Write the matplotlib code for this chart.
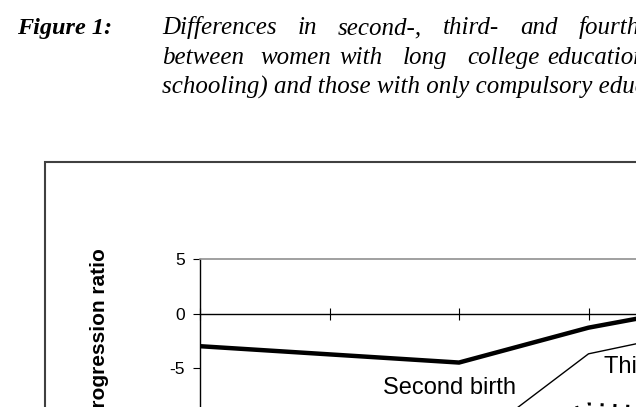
import matplotlib.pyplot as plt
from matplotlib.patches import Rectangle

plt.rcParams['axes.unicode_minus'] = False

# Données
categories = ["1", "2", "3", "4", "5"]
second_birth = [-3.0, -3.75, -4.5, -1.3, 0.9]
third_birth = [-14.5, -13.8, -12.7, -3.7, -1.2]
fourth_birth = [-16.0, -14.5, -12.0, -8.3, -9.0]

W, H = 636, 407
fig = plt.figure(figsize=(W / 100, H / 100), dpi=100)
renderer = fig.canvas.get_renderer()

def fx(px):
    return px / W

def fy(py):
    return 1 - py / H

# === Titre (texte de la page, justifié) ===
serif = "Liberation Serif"
fig.text(fx(17), fy(34), "Figure 1:", family=serif, style="italic", weight="bold",
         fontsize=17.5, va="baseline")

# ligne 1 : mots espacés (justification)
words1 = ["Differences", "in", "second-,", "third-", "and", "fourth-birth"]
x = 162
for word in words1:
    t = fig.text(fx(x), fy(34), word, family=serif, style="italic", fontsize=18, va="baseline")
    x += t.get_window_extent(renderer).width + 21

# ligne 2 : positions relevées
words2 = ["between", "women", "with", "long", "college", "education"]
xpos2 = [162, 260, 339, 403, 467, 547]
for word, x in zip(words2, xpos2):
    fig.text(fx(x), fy(64), word, family=serif, style="italic", fontsize=18, va="baseline")

fig.text(fx(162), fy(94), "schooling) and those with only compulsory education",
         family=serif, style="italic", fontsize=18, va="baseline")

# === Cadre du graphique ===
fig.add_artist(Rectangle((fx(45), -0.5), 2, fy(162) + 0.5, transform=fig.transFigure,
                         fill=False, edgecolor="#404040", linewidth=1.5))

# === Zone de tracé ===
ymax, ymin = 5, -20
ppu = 10.9  # pixels par unité
left, top = 200, 259
width = 129.5 * (len(categories) - 1)
height = (ymax - ymin) * ppu
ax = fig.add_axes([fx(left), fy(top + height), width / W, height / H])
ax.set_xlim(0, len(categories) - 1)
ax.set_ylim(ymin, ymax)
ax.patch.set_alpha(0)

xs = range(len(categories))
ax.plot(xs, second_birth, color="black", linewidth=3.2, solid_joinstyle="miter")
ax.plot(xs, third_birth, color="black", linewidth=1.0)
ax.plot(xs, fourth_birth, color="black", linewidth=2.2, linestyle=(0, (1, 3.2)))

ax.text(1.93, -7.34, "Second birth", ha="center", va="baseline",
        family="Liberation Sans", fontsize=17)
ax.text(3.12, -5.5, "Third birth", ha="left", va="baseline",
        family="Liberation Sans", fontsize=17)

# axes style Excel
ax.spines["right"].set_visible(False)
ax.spines["top"].set_color("#909090")
ax.spines["top"].set_linewidth(1.2)
ax.spines["left"].set_linewidth(1.0)
ax.spines["bottom"].set_position(("data", 0))
ax.spines["bottom"].set_linewidth(1.0)

ax.set_xticks(list(xs))
ax.set_xticklabels([])
ax.tick_params(axis="x", direction="inout", length=9, width=0.8)
ax.set_yticks(range(ymin, ymax + 1, 5))
ax.tick_params(axis="y", direction="out", length=5, width=0.8, pad=6, labelsize=12.5)
for lab in ax.get_yticklabels():
    lab.set_family("Liberation Sans")

fig.text(fx(100), fy(248), "Difference in progression ratio", rotation=90,
         ha="center", va="top", family="Liberation Sans", weight="bold", fontsize=15)

plt.savefig("out.png", dpi=100)
plt.close()
